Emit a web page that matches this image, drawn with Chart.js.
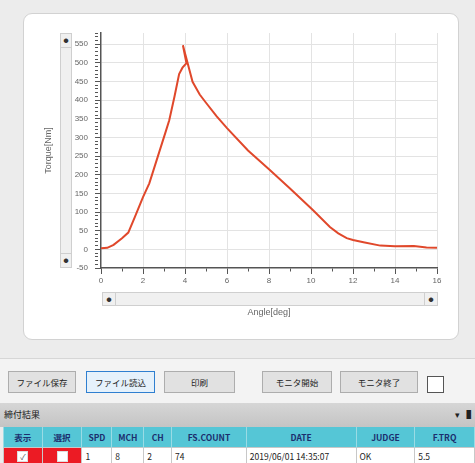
<!DOCTYPE html>
<html>
<head>
<meta charset="utf-8">
<script src="https://cdn.jsdelivr.net/npm/chart.js@4.4.1/dist/chart.umd.min.js"></script>
<style>
    body {
        margin: 0;
        width: 475px;
        height: 463px;
        position: relative;
        overflow: hidden;
        background: #ececec;
        font-family: "Noto Sans CJK JP", "Noto Sans", sans-serif;
        color: #222;
    }
    .abs { position: absolute; box-sizing: border-box; }
    .panel {
        left: 23px; top: 13px; width: 436px; height: 327px;
        background: #fff;
        border: 1px solid #d2d2d2;
        border-radius: 9px;
    }
    .scroll { background: #f0f0f0; border: 1px solid #cfcfcf; }
    .sbtn {
        position: absolute;
        width: 12px; height: 13px;
        font-size: 5px; line-height: 12px; text-align: center;
        color: #333;
    }
    .toolbar { left: 0; top: 358px; width: 475px; height: 45px; background: #f3f3f3; border-top: 1px solid #d6d6d6; }
    .btn {
        height: 22px; top: 371px;
        background: #e1e1e1;
        border: 1px solid #adadad;
        font-size: 8.5px; line-height: 20px; text-align: center;
    }
    .btn.focus { background: #e5f1fb; border: 1px solid #2f7fd0; }
    .strip {
        left: 0; top: 403px; width: 475px; height: 24px;
        background: linear-gradient(#d6d6d6, #c4c4c4);
        font-size: 9px; line-height: 24px; padding-left: 4px;
    }
    table {
        position: absolute; left: 3px; top: 427px;
        border-collapse: collapse; table-layout: fixed;
        font-size: 8.5px;
    }
    th {
        height: 20px; padding: 0;
        background: #55c6d6;
        color: #1c2f6e;
        font-weight: bold;
        border-left: 1px solid #9adbe4;
        border-right: 1px solid #9adbe4;
    }
    td {
        height: 15px; padding: 0 0 0 3px;
        background: #fff;
        border: 1px solid #c8c8c8;
        white-space: nowrap;
    }
    td.red { background: #ec1b24; text-align: center; padding: 0; }
    .cb {
        display: inline-block; width: 9px; height: 9px;
        background: #fff; border: 1px solid #ddd;
        font-size: 8px; line-height: 9px; color: #555; vertical-align: middle;
    }
    .chart-box { left: 0; top: 0; width: 475px; height: 345px; }
</style>
</head>
<body>
<div class="abs panel"></div>

<div class="abs scroll" style="left:60px; top:33px; width:12px; height:235px;">
    <div class="sbtn" style="left:-1px; top:0; border-bottom:1px solid #cfcfcf;">●</div>
    <div class="sbtn" style="left:-1px; bottom:0; border-top:1px solid #cfcfcf;">●</div>
</div>
<div class="abs scroll" style="left:102px; top:292px; width:336px; height:14px;">
    <div class="sbtn" style="left:0; top:0; border-right:1px solid #cfcfcf;">●</div>
    <div class="sbtn" style="right:0; top:0; border-left:1px solid #cfcfcf;">●</div>
</div>

<div class="abs chart-box"><canvas id="torque-chart"></canvas></div>

<div class="abs toolbar"></div>
<div class="abs btn" style="left:8px; width:68px;">ファイル保存</div>
<div class="abs btn focus" style="left:86px; width:69px;">ファイル読込</div>
<div class="abs btn" style="left:164px; width:71px;">印刷</div>
<div class="abs btn" style="left:262px; width:70px;">モニタ開始</div>
<div class="abs btn" style="left:340px; width:78px;">モニタ終了</div>
<div class="abs" style="left:427px; top:376px; width:17px; height:17px; background:#fff; border:1px solid #555;"></div>

<div class="abs strip">締付結果<span style="position:absolute; right:4px;">▾ ▐</span></div>

<table>
    <colgroup>
        <col style="width:39px"><col style="width:40px"><col style="width:30px">
        <col style="width:32px"><col style="width:28px"><col style="width:75px">
        <col style="width:110px"><col style="width:59px"><col style="width:60px">
    </colgroup>
    <tr>
        <th>表示</th><th>選択</th><th>SPD</th><th>MCH</th><th>CH</th>
        <th>FS.COUNT</th><th>DATE</th><th>JUDGE</th><th>F.TRQ</th>
    </tr>
    <tr>
        <td class="red"><span class="cb">✓</span></td>
        <td class="red"><span class="cb"></span></td>
        <td>1</td><td>8</td><td>2</td><td>74</td>
        <td>2019/06/01 14:35:07</td><td>OK</td><td>5.5</td>
    </tr>
</table>

<script>
// torque curve (angle in deg, torque in Nm)
const angles = [
    0, 0.3, 0.6, 1.0, 1.3, 1.6, 2.0, 2.3, 2.7, 3.1, 3.25, 3.5, 3.72, 3.88,
    4.07, 3.9, 4.36, 4.7, 5.0, 5.5, 6.0, 7.0, 8.0, 9.0, 10.1, 10.9, 11.3,
    11.7, 12.0, 12.5, 13.3, 14.0, 14.9, 15.5, 16.0,
];
const torques = [
    3, 4, 12, 30, 45, 85, 140, 177, 248, 319, 346, 410, 470, 487,
    499, 547, 449, 415, 393, 357, 325, 265, 215, 163, 105, 60, 43,
    30, 25, 19, 10, 8, 9, 5, 4,
];
const xLabels = [0, 2, 4, 6, 8, 10, 12, 14, 16];
const yLabels = [-50, 0, 50, 100, 150, 200, 250, 300, 350, 400, 450, 500, 550];

const points = angles.map((a, i) => ({ x: a, y: torques[i] }));

Chart.defaults.font.family = "Liberation Sans";

const tickFont = { size: 8 };
const gridColor = "#e3e3e3";
const axisColor = "#555";

const chartCanvas = document.querySelector("#torque-chart");
new Chart(chartCanvas, {
    type: "line",
    data: {
        datasets: [
            {
                data: points,
                borderColor: "#e0482b",
                borderWidth: 2,
                pointRadius: 0,
                tension: 0,
            },
        ],
    },
    options: {
        responsive: true,
        maintainAspectRatio: false,
        animation: false,
        layout: { padding: { left: 30, top: 33, right: 38, bottom: 15 } },
        plugins: { legend: { display: false }, tooltip: { enabled: false } },
        scales: {
            x: {
                type: "linear",
                min: 0,
                max: 16,
                ticks: {
                    stepSize: 1,
                    autoSkip: false,
                    maxRotation: 0,
                    padding: 2,
                    color: "#666",
                    font: tickFont,
                    callback: (v) => (xLabels.includes(v) ? v : ""),
                },
                grid: {
                    color: (ctx) =>
                        ctx.tick && ctx.tick.value > 0 && xLabels.includes(ctx.tick.value)
                            ? gridColor
                            : "transparent",
                    tickColor: axisColor,
                    tickLength: 6,
                    tickBorderDash: (ctx) =>
                        ctx.tick && xLabels.includes(ctx.tick.value) ? [] : [3, 10],
                },
                border: { color: axisColor, width: 1.5 },
                title: {
                    display: true,
                    text: "Angle[deg]",
                    color: "#666",
                    font: { size: 9 },
                    padding: { top: 0, bottom: 12 },
                },
                afterFit: (scale) => {
                    scale.height = 62;
                },
            },
            y: {
                min: -50,
                max: 580,
                ticks: {
                    stepSize: 10,
                    autoSkip: false,
                    padding: 7,
                    color: "#666",
                    font: tickFont,
                    callback: (v) => (yLabels.includes(v) ? v : ""),
                },
                grid: {
                    color: (ctx) =>
                        ctx.tick && ctx.tick.value > -50 && yLabels.includes(ctx.tick.value)
                            ? gridColor
                            : "transparent",
                    tickColor: axisColor,
                    tickLength: 6,
                    tickBorderDash: (ctx) =>
                        ctx.tick && yLabels.includes(ctx.tick.value) ? [] : [3, 10],
                },
                border: { color: axisColor, width: 1.5 },
                title: {
                    display: true,
                    text: "Torque[Nm]",
                    color: "#666",
                    font: { size: 9 },
                    padding: { top: 13, bottom: 0 },
                },
                afterFit: (scale) => {
                    scale.width = 71;
                },
            },
        },
    },
});
</script>
</body>
</html>
